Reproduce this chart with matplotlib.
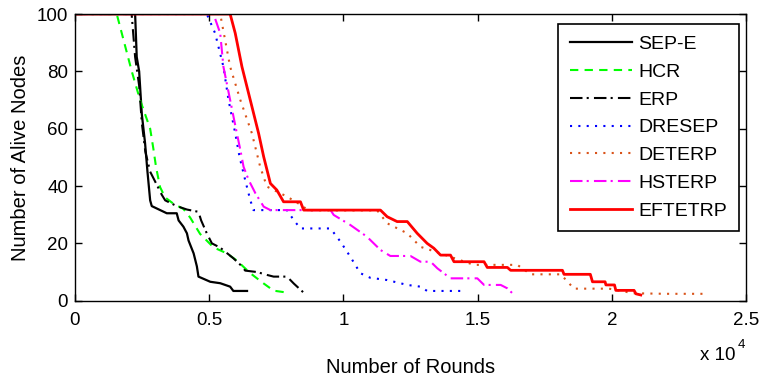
import matplotlib
matplotlib.use("Agg")
import matplotlib.pyplot as plt

plt.rcParams['font.family'] = ['Liberation Sans', 'DejaVu Sans']

# ---- data (rounds, alive nodes) ----
sep_e_x = [0, 2240, 2300, 2390, 2490, 2550, 2610, 2700, 2800, 2860, 3420, 3790, 3860, 4040, 4170, 4230, 4420, 4540, 4600, 5040, 5410, 5780, 5900, 6410]
sep_e_y = [100, 100, 85, 80, 65, 60, 55, 45, 35, 33, 30.5, 30.5, 28, 25.8, 23.5, 21, 16.5, 12, 8.4, 6.6, 6.1, 4.9, 3.4, 3.4]

hcr_x = [0, 1555, 2115, 2425, 2800, 2920, 3020, 3170, 3360, 3670, 4040, 4290, 4660, 5160, 5660, 6030, 6530, 7030, 7400, 7775]
hcr_y = [100, 100, 80, 70, 60, 53, 46.6, 39.6, 36, 33.8, 32, 29, 23.3, 18.6, 16.5, 14, 9.6, 6, 3.5, 3]

erp_x = [0, 2110, 2240, 2390, 2490, 2620, 2800, 3070, 3230, 3360, 3790, 4170, 4600, 4700, 4910, 5100, 5410, 5900, 6220, 6340, 6780, 7150, 7400, 7900, 8150, 8520]
erp_y = [100, 100, 85, 75, 62, 52, 45, 40, 37, 35, 33, 31.8, 31, 28, 23.5, 20, 18.5, 14.8, 12, 10.5, 10, 9, 8.4, 8.4, 6, 2.8]

dresep_x = [0, 4910, 5220, 5530, 5720, 5970, 6130, 6340, 6530, 6650, 7900, 8150, 8400, 9520, 9890, 10260, 10630, 11000, 11630, 12380, 12870, 13120, 14370]
dresep_y = [100, 100, 93.3, 81.6, 70, 58.4, 50.2, 42.1, 35.1, 31.6, 31.6, 28.1, 25.2, 25.2, 20.6, 15.3, 9.6, 8, 7.2, 5.5, 4.9, 3.4, 3.4]

deterp_x = [0, 5410, 5780, 6160, 6590, 6900, 7150, 7900, 8520, 8650, 11260, 11630, 12380, 12870, 13620, 14860, 16480, 16980, 18100, 18590, 19900, 20800, 22000, 23570]
deterp_y = [100, 100, 81.6, 70, 58.4, 46.7, 39.8, 36.3, 32.8, 31.5, 31.5, 27, 23.5, 18.8, 16.5, 12.5, 12.5, 9.2, 9.2, 4.2, 4.2, 2.6, 2.4, 2.4]

hsterp_x = [0, 5160, 5410, 5530, 5780, 6030, 6160, 6280, 6470, 6720, 7030, 7280, 9520, 9640, 10260, 10880, 11380, 11750, 12500, 12870, 13250, 13500, 13990, 14990, 15240, 15860, 16110, 16360]
hsterp_y = [100, 100, 93.3, 81.6, 70, 58.4, 52.6, 46.7, 42.1, 37.5, 32.8, 31.6, 31.6, 29.9, 26.4, 22.3, 17.7, 15.6, 15.6, 13.6, 13.6, 11.3, 7.8, 7.8, 5.5, 5.5, 4.3, 2.0]

eftetrp_x = [0, 5780, 5970, 6220, 6530, 6840, 7030, 7280, 7520, 7770, 8400, 8520, 11380, 11630, 12000, 12380, 12750, 13120, 13370, 13620, 13990, 14120, 15240, 15360, 16110, 16230, 18160, 18220, 19200, 19280, 19750, 19780, 20100, 20150, 20830, 20900, 21080]
eftetrp_y = [100, 100, 93.3, 81.6, 70, 58.4, 50.2, 40.9, 38.6, 34.5, 34.5, 31.6, 31.6, 29.3, 27.6, 27.6, 23.5, 20, 18.3, 15.9, 15.9, 13.6, 13.6, 11.6, 11.6, 10.6, 10.6, 9.2, 9.2, 6.6, 6.6, 5.5, 5.5, 3.6, 3.6, 2.4, 2.0]

labels = ['SEP-E', 'HCR', 'ERP', 'DRESEP', 'DETERP', 'HSTERP', 'EFTETRP']
xticks = [0, 5000, 10000, 15000, 20000, 25000]
xticklabels = ['0', '0.5', '1', '1.5', '2', '2.5']
yticks = [0, 20, 40, 60, 80, 100]

W, H = 762, 379
fig = plt.figure(figsize=(W / 100, H / 100), dpi=100)
ax = fig.add_axes([75 / W, 1 - 300.7 / H, 671 / W, 286.7 / H])

lw = 1.5
ax.plot(sep_e_x, sep_e_y, color='black', lw=1.6, label=labels[0])
ax.plot(hcr_x, hcr_y, color='#00ff00', lw=lw, dashes=(4, 3), label=labels[1])
ax.plot(erp_x, erp_y, color='black', lw=lw, dashes=(6, 2, 1, 2.5), label=labels[2])
ax.plot(dresep_x, dresep_y, color='#0000ff', lw=lw, dashes=(1, 3), label=labels[3])
ax.plot(deterp_x, deterp_y, color='#d95319', lw=lw, dashes=(1, 3), label=labels[4])
ax.plot(hsterp_x, hsterp_y, color='#ff00ff', lw=lw, dashes=(6, 2, 1, 2.5), label=labels[5])
ax.plot(eftetrp_x, eftetrp_y, color='#ff0000', lw=2.0, label=labels[6])

ax.set_xlim(0, 25000)
ax.set_ylim(0, 100)
ax.set_xticks(xticks)
ax.set_xticklabels(xticklabels)
ax.set_yticks(yticks)
ax.tick_params(direction='in', length=5, width=1, top=True, right=True,
               labelsize=13.5, colors='black')
ax.tick_params(axis='x', pad=8)
ax.tick_params(axis='y', pad=5)
for s in ax.spines.values():
    s.set_linewidth(1.0)

ax.set_xlabel('Number of Rounds', fontsize=14.5, labelpad=21)
ax.set_ylabel('Number of Alive Nodes', fontsize=14.5, labelpad=5)

fig.text(700 / W, 1 - 356 / H, 'x 10', fontsize=13.5, va='center', ha='left')
fig.text(738 / W, 1 - 345 / H, '4', fontsize=9.5, va='center', ha='left')

leg = ax.legend(loc='upper right', bbox_to_anchor=((739 - 75) / 671, (300.7 - 24) / 286.7),
                borderaxespad=0, fontsize=14, handlelength=3.2, handletextpad=0.35,
                borderpad=0.6, labelspacing=0.52, fancybox=False, framealpha=1)
leg.get_frame().set_edgecolor('black')
leg.get_frame().set_linewidth(1.2)

fig.savefig('out.png', dpi=100)
